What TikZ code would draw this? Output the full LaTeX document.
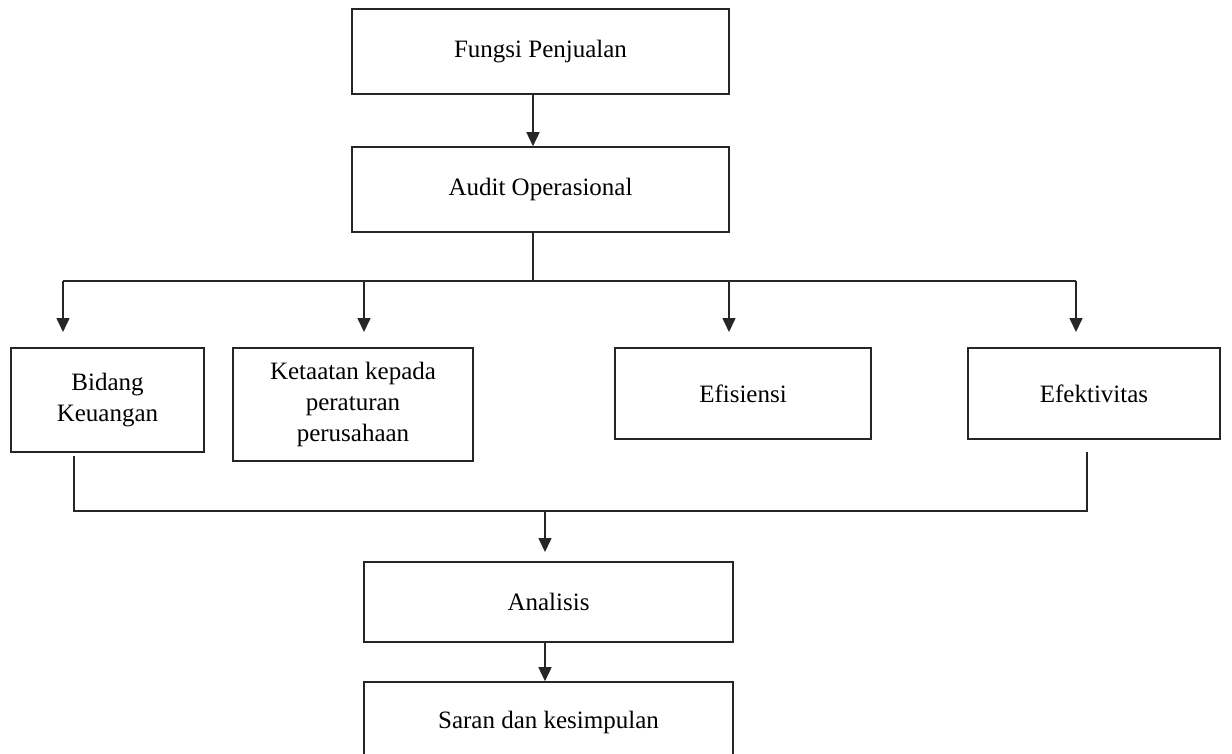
\documentclass[tikz,border=0pt]{standalone}
\usepackage{fontspec}
\setmainfont{Liberation Serif}
\usetikzlibrary{arrows.meta}
\begin{document}
\begin{tikzpicture}[x=1pt,y=-1pt,
  box/.style={draw=black!85,line width=1.6pt,rectangle,align=center,
    font=\fontsize{25}{31}\selectfont,inner sep=0pt},
  ln/.style={draw=black!85,line width=1.6pt},
  arr/.style={ln,-{Triangle[width=13pt,length=14pt]}}]
\useasboundingbox (0,0) rectangle (1232,753);
% top chain
\node[box,minimum width=377pt,minimum height=85pt] (fungsi) at (540.5,51.5) {Fungsi Penjualan};
\node[box,minimum width=377pt,minimum height=85pt] (audit) at (540.5,189.5) {Audit Operasional};
% middle row
\node[box,minimum width=193pt,minimum height=104pt] (bidang) at (107.5,400) {Bidang\\Keuangan};
\node[box,minimum width=240pt,minimum height=113pt] (ketaatan) at (353,404.5) {Ketaatan kepada\\peraturan\\perusahaan};
\node[box,minimum width=256pt,minimum height=91pt] (efisiensi) at (743,393.5) {Efisiensi};
\node[box,minimum width=252pt,minimum height=91pt] (efektivitas) at (1094,393.5) {Efektivitas};
% bottom chain
\node[box,minimum width=369pt,minimum height=80pt] (analisis) at (548.5,602) {Analisis};
\node[box,minimum width=369pt,minimum height=80pt] (saran) at (548.5,722) {Saran dan kesimpulan};
% coordinates
\coordinate (jtop) at (533,281);
\coordinate (jl) at (63,281);
\coordinate (jk) at (364,281);
\coordinate (je) at (729,281);
\coordinate (jr) at (1076,281);
\coordinate (tl) at (63,332);
\coordinate (tk) at (364,332);
\coordinate (te) at (729,332);
\coordinate (tr) at (1076,332);
\coordinate (bl0) at (74,456);
\coordinate (bl) at (74,511);
\coordinate (br0) at (1087,452);
\coordinate (br) at (1087,511);
\coordinate (bm) at (545,511);
\coordinate (bt) at (545,552);
% connectors
\draw[arr] (fungsi.south -| jtop) -- (audit.north -| jtop);
\draw[ln] (audit.south -| jtop) -- (jtop);
\draw[ln] (jl) -- (jr);
\draw[arr] (jl) -- (tl);
\draw[arr] (jk) -- (tk);
\draw[arr] (je) -- (te);
\draw[arr] (jr) -- (tr);
\draw[ln] (bl0) -- (bl) -- (br) -- (br0);
\draw[arr] (bm) -- (bt);
\draw[arr] (analisis.south -| bm) -- (saran.north -| bm);
\end{tikzpicture}
\end{document}
